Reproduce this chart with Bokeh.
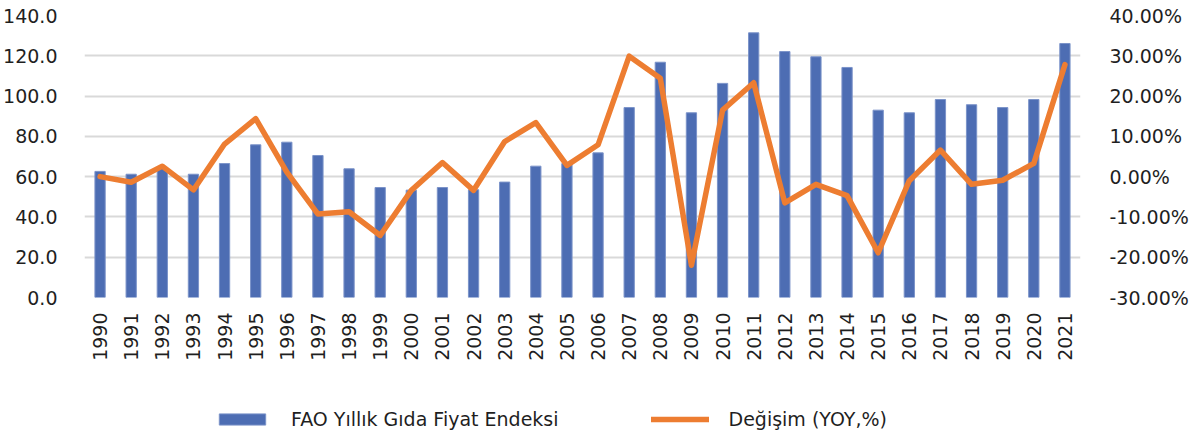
from bokeh.plotting import figure
from bokeh.layouts import column
from bokeh.models import (Range1d, LinearAxis, FixedTicker, PrintfTickFormatter,
                          Legend, LegendItem, ColumnDataSource, FactorRange)
from bokeh.embed import file_html
from bokeh.resources import INLINE
import math

years = [str(y) for y in range(1990, 2022)]
fao_index = [62.6, 61.2, 64.0, 61.2, 66.5, 75.8, 77.1, 70.5, 63.9, 54.6,
             53.3, 54.6, 53.5, 57.3, 65.2, 66.5, 71.8, 94.3, 116.8, 91.7,
             106.3, 131.4, 122.1, 119.5, 114.2, 93.0, 91.7, 98.3, 95.7, 94.3,
             98.3, 126.1]
yoy_change = [0.0, -1.4, 2.6, -3.3, 8.1, 14.4, 1.1, -9.3, -8.7, -14.6,
              -3.4, 3.5, -3.4, 8.7, 13.4, 2.8, 7.9, 29.9, 24.4, -22.0,
              16.5, 23.3, -6.5, -1.9, -4.7, -18.9, -1.0, 6.6, -1.9, -0.9,
              3.3, 27.8]
left_ticks = [0, 20, 40, 60, 80, 100, 120, 140]
right_ticks = [-30, -20, -10, 0, 10, 20, 30, 40]
bar_label = "FAO Yıllık Gıda Fiyat Endeksi"
line_label = "Değişim (YOY,%)"

FONT = "DejaVu Sans"
TXT = "#1f1f1f"
BAR = "#4d6db3"
BAR_EDGE = "#7b93c9"
LINE = "#ed7d31"
FS = "19px"

src = ColumnDataSource(dict(year=years, idx=fao_index, chg=yoy_change))

p = figure(x_range=FactorRange(*years, range_padding=0), y_range=Range1d(0, 140),
           width=1193, height=372, output_backend="svg", toolbar_location=None,
           min_border_left=84, min_border_right=113, min_border_top=15,
           min_border_bottom=75)
p.frame_width = 996
p.frame_height = 282
p.extra_y_ranges = {"pct": Range1d(-30, 40)}

p.vbar(x="year", top="idx", width=0.33, source=src, fill_color=BAR,
       line_color=BAR_EDGE, line_width=1)
p.line(x="year", y="chg", source=src, y_range_name="pct", line_color=LINE,
       line_width=5.5, line_join="round", line_cap="round")

p.outline_line_color = None
p.xgrid.grid_line_color = None
p.ygrid.grid_line_color = "#d9d9d9"
p.ygrid.grid_line_width = 2
p.ygrid.ticker = FixedTicker(ticks=left_ticks)

for ax in [p.xaxis[0], p.yaxis[0]]:
    ax.axis_line_color = None
    ax.major_tick_line_color = None
    ax.minor_tick_line_color = None
    ax.major_label_text_font = FONT
    ax.major_label_text_font_size = FS
    ax.major_label_text_color = TXT

p.yaxis[0].ticker = FixedTicker(ticks=left_ticks)
p.yaxis[0].formatter = PrintfTickFormatter(format="%.1f")
p.yaxis[0].major_label_standoff = 21

p.xaxis[0].major_label_orientation = math.pi / 2
p.xaxis[0].major_label_standoff = 9

rax = LinearAxis(y_range_name="pct", ticker=FixedTicker(ticks=right_ticks),
                 formatter=PrintfTickFormatter(format="%.2f%%"))
rax.axis_line_color = None
rax.major_tick_line_color = None
rax.minor_tick_line_color = None
rax.major_label_text_font = FONT
rax.major_label_text_font_size = FS
rax.major_label_text_color = TXT
rax.major_label_standoff = 23
p.add_layout(rax, "right")

# legend strip below the chart; swatch renderers sit outside the visible range
lf = figure(width=1193, height=62, output_backend="svg", toolbar_location=None,
            x_range=Range1d(0, 1), y_range=Range1d(0, 1),
            x_axis_type=None, y_axis_type=None,
            min_border=0, min_border_left=0, min_border_right=0,
            min_border_top=0, min_border_bottom=0)
lf.grid.visible = False
lf.outline_line_color = None
sw_bar = lf.vbar(x=[-10], top=[-5], width=0.1, fill_color=BAR, line_color=BAR_EDGE)
sw_line = lf.line(x=[-10, -9], y=[-10, -9], line_color=LINE, line_width=5.5,
                  line_cap="round")

lg = Legend(items=[LegendItem(label=bar_label, renderers=[sw_bar]),
                   LegendItem(label=line_label, renderers=[sw_line])],
            location=(129, 4), orientation="horizontal",
            glyph_width=58, glyph_height=14, label_standoff=20, spacing=92,
            padding=0, margin=0, border_line_color=None,
            background_fill_alpha=0, label_text_font=FONT,
            label_text_font_size=FS, label_text_color=TXT,
            label_height=22)
lf.add_layout(lg, "center")

layout = column(p, lf, spacing=0)
open("out.html", "w").write(file_html(layout, INLINE))
